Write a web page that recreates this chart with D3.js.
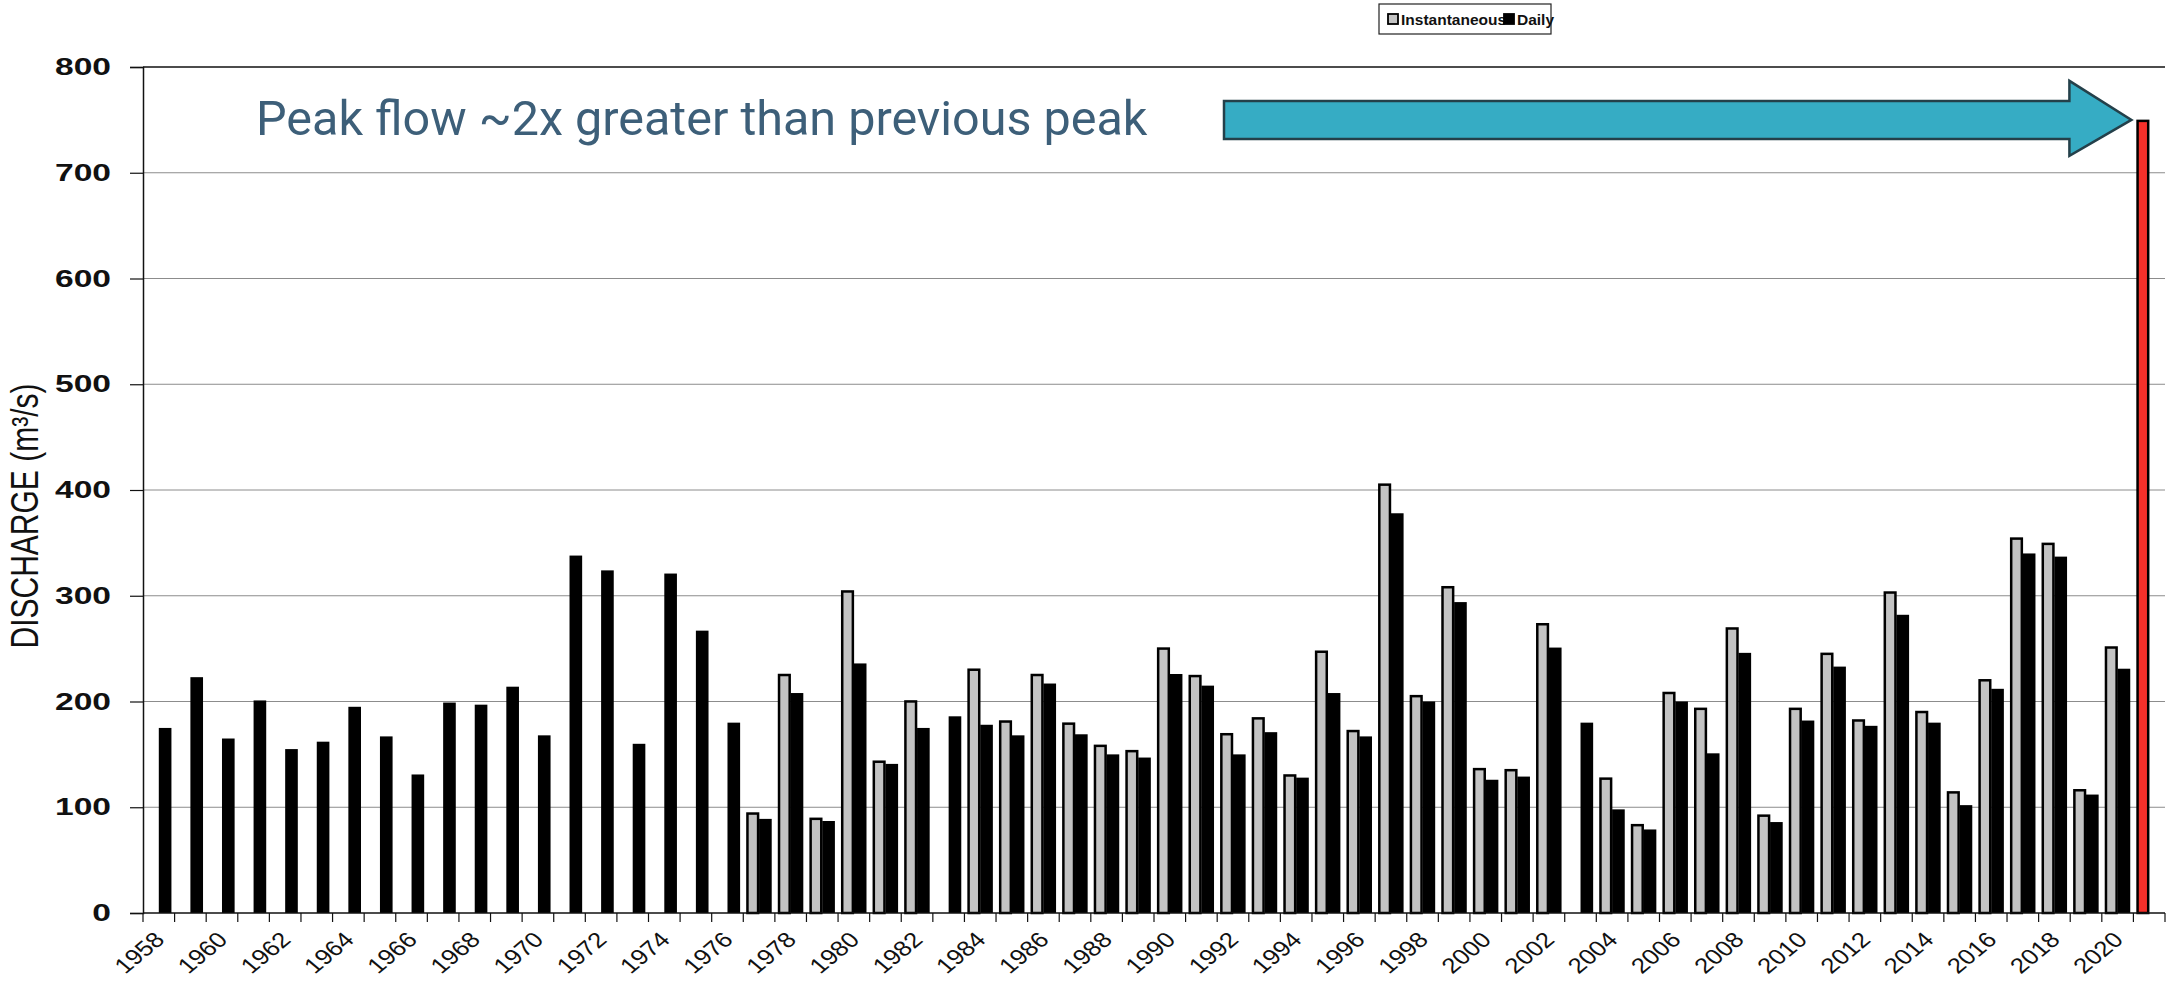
<!DOCTYPE html>
<html>
<head>
<meta charset="utf-8">
<script src="https://cdn.jsdelivr.net/npm/d3@7"></script>
<style>
  body { margin: 0; background: #fff; }
  svg { display: block; }
</style>
</head>
<body>
<div class="main"></div>
<script>
// chart values
const years = d3.range(1958, 2022);
const instantaneous = [
  null, null, null, null, null, null, null, null, null, null,   // 1958-1967
  null, null, null, null, null, null, null, null, null, 95,     // 1968-1977
  226, 90, 305, 144, 201, null, 231, 182, 226, 180,             // 1978-1987
  159, 154, 251, 225, 170, 185, 131, 248, 173, 406,             // 1988-1997
  206, 309, 137, 136, 274, null, 128, 84, 209, 194,             // 1998-2007
  270, 93, 194, 246, 183, 304, 191, 115, 221, 355,              // 2008-2017
  350, 117, 252, 750                                            // 2018-2021
];
const daily = [
  175, 223, 165, 201, 155, 162, 195, 167, 131, 199,             // 1958-1967
  197, 214, 168, 338, 324, 160, 321, 267, 180, 89,              // 1968-1977
  208, 87, 236, 141, 175, 186, 178, 168, 217, 169,              // 1978-1987
  150, 147, 226, 215, 150, 171, 128, 208, 167, 378,             // 1988-1997
  200, 294, 126, 129, 251, 180, 98, 79, 200, 151,               // 1998-2007
  246, 86, 182, 233, 177, 282, 180, 102, 212, 340,              // 2008-2017
  337, 112, 231, null                                           // 2018-2021
];
const peakYear = 2021;
const yTicks = [0, 100, 200, 300, 400, 500, 600, 700, 800];
const xLabels = years.filter(y => y % 2 === 0);
const seriesNames = ['Instantaneous', 'Daily'];
const annotation = 'Peak flow ~2x greater than previous peak';

const width = 2167;
const height = 990;
const margin = { top: 67, right: 2, bottom: 77, left: 143 };
const stretch = 1.4; // the original chart was widened horizontally

const svg = d3.select('.main')
  .append('svg')
  .attr('width', width)
  .attr('height', height)
  .style('font-family', 'Liberation Sans, Arial, sans-serif');

const x = d3.scaleBand()
  .domain(years)
  .range([margin.left, width - margin.right])
  .padding(0);

const xInner = d3.scaleBand()
  .domain(['inst', 'daily'])
  .range([0, x.bandwidth()])
  .paddingInner(0)
  .paddingOuter(0.25);

const y = d3.scaleLinear()
  .domain([0, 800])
  .range([height - margin.bottom, margin.top]);

// grid lines
svg.append('g')
  .selectAll('line')
  .data(yTicks.filter(d => d > 0))
  .enter()
  .append('line')
  .attr('x1', margin.left)
  .attr('x2', width - margin.right)
  .attr('y1', d => y(d))
  .attr('y2', d => y(d))
  .attr('stroke', d => d === 800 ? '#111' : '#8c8c8c')
  .attr('stroke-width', d => d === 800 ? 1.6 : 1);

// bars
const rows = years.map((yr, i) => ({ year: yr, inst: instantaneous[i], daily: daily[i] }));

svg.append('g')
  .selectAll('rect')
  .data(rows.filter(d => d.inst != null))
  .enter()
  .append('rect')
  .attr('x', d => x(d.year) + xInner('inst') + 1)
  .attr('y', d => y(d.inst) + 1)
  .attr('width', xInner.bandwidth() - 2)
  .attr('height', d => y(0) - y(d.inst) - 1)
  .attr('fill', d => d.year === peakYear ? '#f5302a' : '#c3c3c3')
  .attr('stroke', '#000')
  .attr('stroke-width', 2.5);

svg.append('g')
  .selectAll('rect')
  .data(rows.filter(d => d.daily != null))
  .enter()
  .append('rect')
  .attr('x', d => x(d.year) + xInner('daily'))
  .attr('y', d => y(d.daily))
  .attr('width', xInner.bandwidth())
  .attr('height', d => y(0) - y(d.daily))
  .attr('fill', '#000');

// y axis
svg.append('g')
  .attr('transform', `translate(${margin.left}, 0)`)
  .call(d3.axisLeft(y).tickValues(yTicks).tickSize(13))
  .call(g => g.selectAll('text')
    .attr('x', 0)
    .attr('transform', `translate(-32, 0) scale(${stretch}, 1)`)
    .attr('font-size', 24)
    .attr('font-weight', 'bold')
    .attr('fill', '#111')
    .style('font-family', 'Liberation Sans, Arial, sans-serif'))
  .call(g => g.select('.domain').attr('stroke', '#111').attr('stroke-width', 1.5))
  .call(g => g.selectAll('.tick line').attr('stroke', '#111').attr('stroke-width', 1.2));

// x axis
const xAxis = svg.append('g')
  .attr('transform', `translate(0, ${y(0)})`);

xAxis.append('line')
  .attr('x1', margin.left)
  .attr('x2', width - margin.right)
  .attr('stroke', '#111')
  .attr('stroke-width', 1.5);

xAxis.selectAll('.btick')
  .data(years.concat([null]))
  .enter()
  .append('line')
  .attr('class', 'btick')
  .attr('x1', d => d == null ? x.range()[1] : x(d))
  .attr('x2', d => d == null ? x.range()[1] : x(d))
  .attr('y1', 0)
  .attr('y2', 9)
  .attr('stroke', '#111')
  .attr('stroke-width', 1.2);

xAxis.selectAll('.xlabel')
  .data(xLabels)
  .enter()
  .append('text')
  .attr('class', 'xlabel')
  .attr('transform', d => `translate(${x(d) + x.bandwidth() / 2 + 7}, 28) scale(1.2, 1) rotate(-45)`)
  .attr('text-anchor', 'end')
  .attr('font-size', 21.5)
  .attr('fill', '#111')
  .text(d => d);

// y axis title
svg.append('text')
  .attr('transform', `translate(38, ${(y(0) + y(800)) / 2 + 26}) scale(1.3, 1) rotate(-90)`)
  .attr('text-anchor', 'middle')
  .attr('font-size', 30)
  .attr('fill', '#111')
  .text('DISCHARGE (m³/s)');

// legend
const legend = svg.append('g').attr('transform', 'translate(1379, 4)');
legend.append('rect')
  .attr('width', 172)
  .attr('height', 30)
  .attr('fill', '#fff')
  .attr('stroke', '#222')
  .attr('stroke-width', 1.2);

const legendItems = legend.selectAll('g')
  .data(seriesNames)
  .enter()
  .append('g')
  .attr('transform', (d, i) => `translate(${i === 0 ? 9 : 125}, 15)`);

legendItems.append('rect')
  .attr('x', 0)
  .attr('y', -5)
  .attr('width', 10)
  .attr('height', 10)
  .attr('fill', (d, i) => i === 0 ? '#c3c3c3' : '#000')
  .attr('stroke', '#000')
  .attr('stroke-width', 1.8);

legendItems.append('text')
  .attr('x', 13)
  .attr('dy', '0.36em')
  .attr('font-size', 15.5)
  .attr('font-weight', 'bold')
  .attr('fill', '#111')
  .text(d => d);

// annotation
svg.append('text')
  .attr('x', 256)
  .attr('y', 135)
  .attr('font-size', 48.5)
  .attr('fill', '#3d5f79')
  .style('font-family', 'Roboto, sans-serif')
  .text(annotation);

const tipX = x(peakYear) - 2;
const midY = y(instantaneous[years.indexOf(peakYear)]);
const arrowPts = [
  [1224, midY - 19], [tipX - 62, midY - 19], [tipX - 62, midY - 39],
  [tipX, midY], [tipX - 62, midY + 36], [tipX - 62, midY + 19], [1224, midY + 19]
];
svg.append('polygon')
  .attr('points', arrowPts.map(p => p.join(',')).join(' '))
  .attr('fill', '#36acc4')
  .attr('stroke', '#24404a')
  .attr('stroke-width', 2.5);
</script>
</body>
</html>
